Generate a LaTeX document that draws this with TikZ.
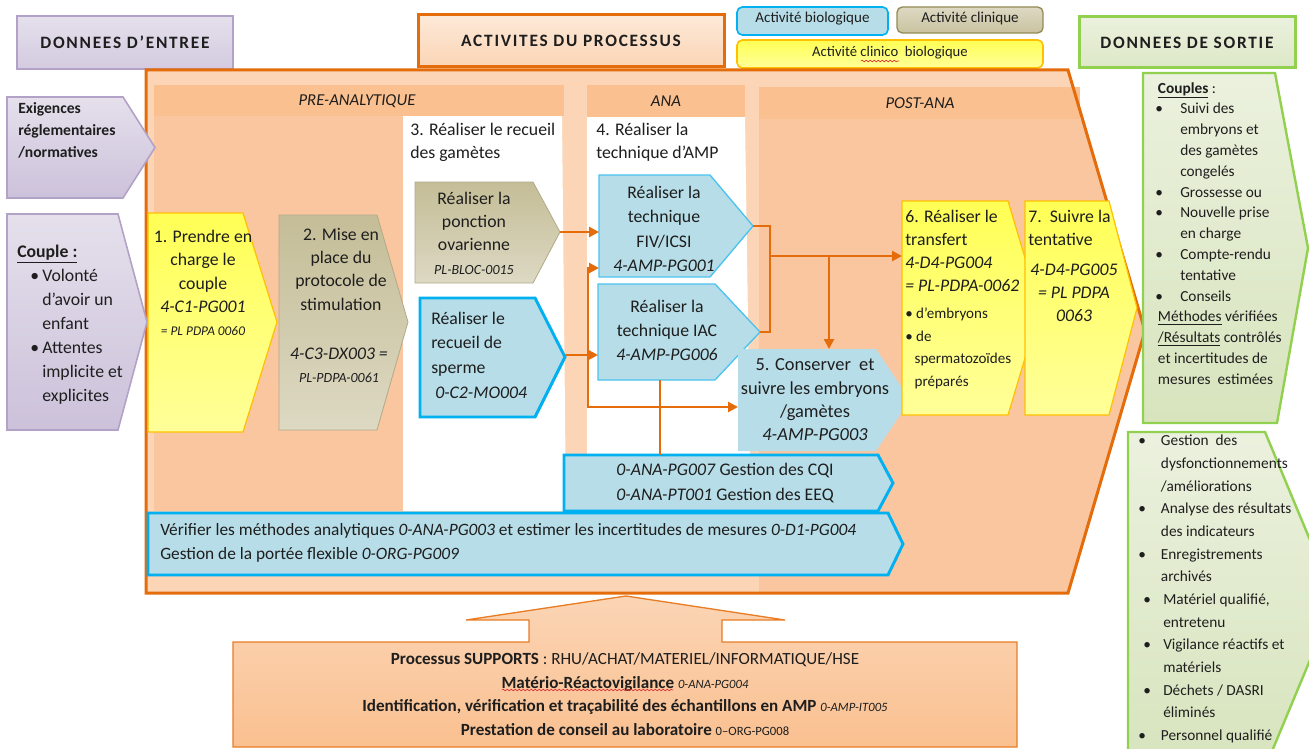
\documentclass[tikz,border=0pt]{standalone}
\usepackage{fontspec}
\setmainfont{Carlito}
\newfontfamily\spacedfont[LetterSpace=10]{Carlito}
\usetikzlibrary{arrows.meta,decorations.pathmorphing}
\definecolor{txt}{HTML}{1E1E1E}
\definecolor{orangeB}{HTML}{E46C0A}
\definecolor{peachL}{HTML}{FBD5B5}
\definecolor{peachD}{HTML}{FAC090}
\definecolor{peachM}{HTML}{F9C6A0}
\definecolor{peachT}{HTML}{FDE9D9}
\definecolor{yelA}{HTML}{FFFF55}
\definecolor{yelB}{HTML}{FFFF99}
\definecolor{yelBord}{HTML}{FFC000}
\definecolor{tanA}{HTML}{C4BD97}
\definecolor{tanB}{HTML}{DDD9C3}
\definecolor{tanBord}{HTML}{948A54}
\definecolor{blueF}{HTML}{B7DDE8}
\definecolor{blueB}{HTML}{00B0F0}
\definecolor{blueC}{HTML}{4BC3EF}
\definecolor{purA}{HTML}{E5E0EC}
\definecolor{purB}{HTML}{CCC1DA}
\definecolor{purBord}{HTML}{B3A2C7}
\definecolor{grnA}{HTML}{EBF1DE}
\definecolor{grnB}{HTML}{D7E4BD}
\definecolor{grnBord}{HTML}{92D050}
\definecolor{squigR}{HTML}{E03030}
\newcommand\fs[2]{\fontsize{#1}{#2}\selectfont}
\newcommand\bl{\makebox[18.75pt][l]{\textbullet}}
\newcommand\bli{\makebox[17pt][l]{\textbullet}}
\begin{document}
\begin{tikzpicture}[x=0.75pt,y=-0.75pt,
  every node/.style={text=txt,inner sep=0pt},
  font=\fs{13.3}{17.5},
  hdr/.style={font=\spacedfont\bfseries\fs{13}{15}},
  inshape/.style={top color=purA,bottom color=purB,draw=purBord,line width=1.2pt,line join=miter},
  yelshape/.style={top color=yelA,bottom color=yelB,draw=yelBord,line width=0.9pt,line join=miter},
  tanshape/.style={top color=tanA,bottom color=tanB,draw=tanA!90!black,line width=0.6pt,line join=miter},
  blueshape/.style={fill=blueF,draw=blueC,line width=1pt,line join=miter},
  bluethick/.style={fill=blueF,draw=blueB,line width=2.2pt,line join=miter},
  grnshape/.style={top color=grnA,bottom color=grnB,draw=grnBord,line width=1.8pt,line join=miter},
  conn/.style={draw=orangeB,line width=1.9pt,line join=miter},
  arr/.style={conn,-{Triangle[length=7.5pt,width=7.5pt]}},
  squig/.style={draw=squigR,line width=0.5pt,decorate,decoration={snake,amplitude=0.6pt,segment length=3pt}}]
\useasboundingbox (0,0) rectangle (1309,749);
\clip (0,0) rectangle (1309,749);

% ---------- title boxes ----------
\draw[top color=purA,bottom color=purB!70!purA,draw=purBord,line width=2pt] (17,16) rectangle (233,69);
\node[hdr] (tin) at (125,42.5) {DONNEES D’ENTREE};
\draw[top color=peachT,bottom color=peachL,draw=orangeB,line width=2.25pt] (418,15) rectangle (724,67);
\node[hdr] (tact) at (571,41) {ACTIVITES DU PROCESSUS};
\draw[top color=grnA,bottom color=grnB!70!grnA,draw=grnBord,line width=2.25pt] (1079,17) rectangle (1295,68);
\node[hdr] (tout) at (1187,42.5) {DONNEES DE SORTIE};

% ---------- legend ----------
\draw[fill=blueF,draw=blueB,line width=1.2pt,rounded corners=4pt] (737,7) rectangle (888,35);
\node[font=\fs{11.3}{13}] (lbio) at (812.5,19) {Activité biologique};
\draw[top color=tanB,bottom color=tanA!80!tanB,draw=tanBord,line width=1pt,rounded corners=4pt] (897,7) rectangle (1043,33);
\node[font=\fs{11.3}{13}] (lclin) at (970,18) {Activité clinique};
\draw[top color=yelA,bottom color=yelB,draw=yelBord,line width=1.2pt,rounded corners=4pt] (737,40) rectangle (1043,68);
\node[font=\fs{11}{13}] (lcb) at (890,53) {Activité clinico\ \ biologique};
\draw[squig] (861,61) -- (899,61);

% ---------- main frame ----------
\def\framepath{(146,70) -- (1068,70) -- (1145,331) -- (1068,593) -- (146,593) -- cycle}
\fill[peachL] \framepath;
\begin{scope}
  \clip \framepath;
  \fill[peachM] (759,119) rectangle (1160,593);
\end{scope}
\fill[peachM] (154,116) rectangle (403,511);
\fill[white] (403,116) -- (562,116) -- (566,511) -- (403,511) -- cycle;
\fill[white] (587,117) -- (745,117) -- (750,455) -- (587,455) -- cycle;
\fill[peachD] (154,85) rectangle (564,116);
\fill[peachD] (587,85) rectangle (745,117);
\fill[peachD] (759,87) rectangle (1080,119);
\draw[orangeB,line width=2.25pt,line join=miter] \framepath;
\node[font=\itshape\fs{12.5}{14}] (hpre) at (357,101) {PRE-ANALYTIQUE};
\node[font=\itshape\fs{12.5}{14}] (hana) at (666,101) {ANA};
\node[font=\itshape\fs{12.5}{14}] (hpost) at (920,103) {POST-ANA};

% ---------- inputs ----------
\draw[inshape] (7,97) -- (123,97) -- (155,147.5) -- (123,198) -- (7,198) -- cycle;
\node[align=left,anchor=north west,font=\bfseries\fs{11.7}{16.5}] (exi) at (18,102) {Exigences\\réglementaires\\/normatives};
\draw[inshape] (7,214) -- (118,214) -- (147,322) -- (118,430) -- (7,430) -- cycle;
\node[align=left,anchor=north west,font=\fs{13.3}{18}] (cou) at (17,245)
 {\textbf{\underline{Couple :}}\\
  \hspace*{9.75pt}\makebox[9pt][l]{\textbullet}Volonté\\
  \hspace*{18.75pt}d’avoir un\\
  \hspace*{18.75pt}enfant\\
  \hspace*{9.75pt}\makebox[9pt][l]{\textbullet}Attentes\\
  \hspace*{18.75pt}implicite et\\
  \hspace*{18.75pt}explicites};

% ---------- process boxes ----------
\draw[yelshape] (148,213) -- (243,213) -- (277,322) -- (243,432) -- (148,432) -- cycle;
\node[align=center] (b1) at (203,283) {1. Prendre en\\charge le\\couple\\\textit{4-C1-PG001}\\{\fs{10}{17.5}\textit{= PL PDPA 0060}}};

\draw[tanshape] (279,215) -- (377,215) -- (408,322) -- (377,430) -- (279,430) -- cycle;
\node[align=center] (b2) at (341,269) {2. Mise en\\place du\\protocole de\\stimulation};
\node[align=center] (b2c) at (339,365) {\textit{4-C3-DX003 =}\\{\fs{10.5}{17.5}\textit{PL-PDPA-0061}}};

\node[align=left,anchor=north west,font=\fs{13.3}{17.25}] (c3) at (410,123) {3. Réaliser le recueil\\des gamètes};
\node[align=left,anchor=north west,font=\fs{13.3}{17.25}] (c4) at (596,123) {4. Réaliser la\\technique d’AMP};

\draw[tanshape] (415,182) -- (533,182) -- (560,232) -- (533,283) -- (415,283) -- cycle;
\node[align=center,font=\fs{13.3}{17.5}] (pon) at (474,233) {Réaliser la\\ponction\\ovarienne\\{\fs{10.5}{17.5}\textit{PL-BLOC-0015}}};

\draw[bluethick] (420,298) -- (535,298) -- (565,357) -- (535,417) -- (420,417) -- cycle;
\node[align=left,anchor=west,font=\fs{13.3}{18.5}] (spe) at (431,355) {Réaliser le\\recueil de\\sperme\\\hspace*{3pt}\textit{0-C2-MO004}};

\draw[blueshape] (599,175) -- (710,175) -- (753,226) -- (710,277) -- (599,277) -- cycle;
\node[align=center,font=\fs{13.3}{18.2}] (fiv) at (664,229) {Réaliser la\\technique\\FIV/ICSI\\\textit{4-AMP-PG001}};

\draw[blueshape] (598,284) -- (715,284) -- (760,332) -- (715,380) -- (598,380) -- cycle;
\node[align=center,font=\fs{13.3}{18}] (iac) at (667,330) {Réaliser la\\technique IAC\\\textit{4-AMP-PG006}};

\fill[blueF] (738,349) -- (876,349) -- (910,400) -- (876,451) -- (738,451) -- cycle;
\node[align=center,font=\fs{13.8}{17.5}] (b5) at (815,400) {5. Conserver\ \ et\\suivre les embryons\\/gamètes\\\textit{4-AMP-PG003}};

\draw[yelshape] (902,201) -- (1008,201) -- (1040,308) -- (1008,415) -- (902,415) -- cycle;
\node[align=left,anchor=north west,font=\fs{13.3}{17.25}] (b6) at (905,210) {6. Réaliser le\\transfert\\\textit{4-D4-PG004}\\\textit{= PL-PDPA-0062}};
\node[align=left,anchor=north west,font=\fs{11.3}{16.8}] (b6b) at (905,308) {\textbullet\ d’embryons\\\textbullet\ de\\\hspace*{7pt}spermatozoïdes\\\hspace*{7pt}préparés};

\draw[yelshape] (1025,201) -- (1109,201) -- (1137,308) -- (1109,415) -- (1025,415) -- cycle;
\node[align=left,anchor=north west,font=\fs{13.3}{17.25}] (b7) at (1028,210) {7.\ \ Suivre la\\tentative};
\node[align=center,font=\fs{13.3}{17.25}] (b7c) at (1074,293) {\textit{4-D4-PG005}\\\textit{= PL PDPA}\\\textit{0063}};

\draw[bluethick] (564,455) -- (878,455) -- (893,483) -- (878,511) -- (564,511) -- cycle;
\node[align=center,font=\fs{13.3}{18.75}] (cqi) at (725,483) {\textit{0-ANA-PG007} Gestion des CQI\\\textit{0-ANA-PT001} Gestion des EEQ};

\draw[bluethick] (148,513) -- (888,513) -- (903,544) -- (888,575) -- (148,575) -- cycle;
\node[align=left,anchor=west,font=\fs{13}{18}] (ver) at (160,543) {Vérifier les méthodes analytiques \textit{0-ANA-PG003} et estimer les incertitudes de mesures \textit{0-D1-PG004}\\Gestion de la portée flexible \textit{0-ORG-PG009}};

% ---------- connectors ----------
\coordinate (ponT) at (560,232);
\coordinate (fivL) at (599,232);
\coordinate (speT) at (565,355);
\coordinate (iacL) at (598,355);
\coordinate (jS) at (588,355);
\coordinate (fivL2) at (599,268);
\coordinate (b5L) at (738,407);
\coordinate (fivT) at (753,226);
\coordinate (iacT) at (760,332);
\coordinate (brk) at (770,256);
\coordinate (b6L) at (902,256);
\coordinate (b5T) at (829,349);
\coordinate (iacB) at (660,380);
\coordinate (cqiT) at (660,455);
\draw[arr] (ponT) -- (fivL);
\draw[arr] (speT) -- (iacL);
\draw[arr] (jS) |- (fivL2);
\draw[arr] (jS) |- (b5L);
\draw[conn] (fivT) -| (brk) |- (iacT);
\draw[arr] (brk) -- (b6L);
\draw[arr] (b5T |- brk) -- (b5T);
\draw[conn] (iacB) -- (cqiT);

% ---------- support arrow ----------
\draw[top color=peachL,bottom color=peachD,draw=orangeB!80!peachD,line width=1pt,line join=miter]
  (233,642) -- (529,642) -- (529,620) -- (466,620) -- (626,596) -- (785,620) -- (722,620) -- (722,642) -- (1017,642) -- (1017,747) -- (233,747) -- cycle;
\node[align=center,font=\fs{12.8}{17.6}] (sup) at (625,694)
 {\textbf{Processus SUPPORTS} : RHU/ACHAT/MATERIEL/INFORMATIQUE/HSE\\
  \textbf{Matério-Réactovigilance} {\fs{9.5}{17.6}\textit{0-ANA-PG004}}\\
  \textbf{Identification, vérification et traçabilité des échantillons en AMP} {\fs{9.5}{17.6}\textit{0-AMP-IT005}}\\
  \textbf{Prestation de conseil au laboratoire} {\fs{9.5}{17.6}0--ORG-PG008}};
\draw[squig] (502,690) -- (673,690);

% ---------- outputs ----------
\draw[grnshape] (1143,73) -- (1275,73) -- (1308,248) -- (1277,423) -- (1143,423) -- cycle;
\node[align=left,anchor=north west,font=\fs{11.5}{15.6}] (out1) at (1155,82)
 {\hspace*{2pt}\textbf{\underline{Couples}} :\\
  \bl Suivi des\\
  \hspace*{18.75pt}embryons et\\
  \hspace*{18.75pt}des gamètes\\
  \hspace*{18.75pt}congelés\\
  \bl Grossesse ou\\
  \bl Nouvelle prise\\
  \hspace*{18.75pt}en charge\\
  \bl Compte-rendu\\
  \hspace*{18.75pt}tentative\\
  \bl Conseils\\
  \hspace*{2pt}\underline{Méthodes} vérifiées\\
  \hspace*{2pt}\underline{/Résultats} contrôlés\\
  \hspace*{2pt}et incertitudes de\\
  \hspace*{2pt}mesures\ \ estimées};

\draw[grnshape] (1128,432) -- (1265,432) -- (1335,600) -- (1265,768) -- (1128,768) -- cycle;
\node[align=left,anchor=north west,font=\fs{11.5}{17}] (out2) at (1138,435)
 {\bli Gestion\ \ des\\
  \hspace*{17pt}dysfonctionnements\\
  \hspace*{17pt}/améliorations\\
  \bli Analyse des résultats\\
  \hspace*{17pt}des indicateurs\\
  \bli Enregistrements\\
  \hspace*{17pt}archivés\\
  \hspace*{3.75pt}\makebox[15pt][l]{\textbullet}Matériel qualifié,\\
  \hspace*{18.75pt}entretenu\\
  \hspace*{3.75pt}\makebox[15pt][l]{\textbullet}Vigilance réactifs et\\
  \hspace*{18.75pt}matériels\\
  \hspace*{3.75pt}\makebox[15pt][l]{\textbullet}Déchets / DASRI\\
  \hspace*{18.75pt}éliminés\\
  \bli Personnel qualifié};
\end{tikzpicture}
\end{document}
